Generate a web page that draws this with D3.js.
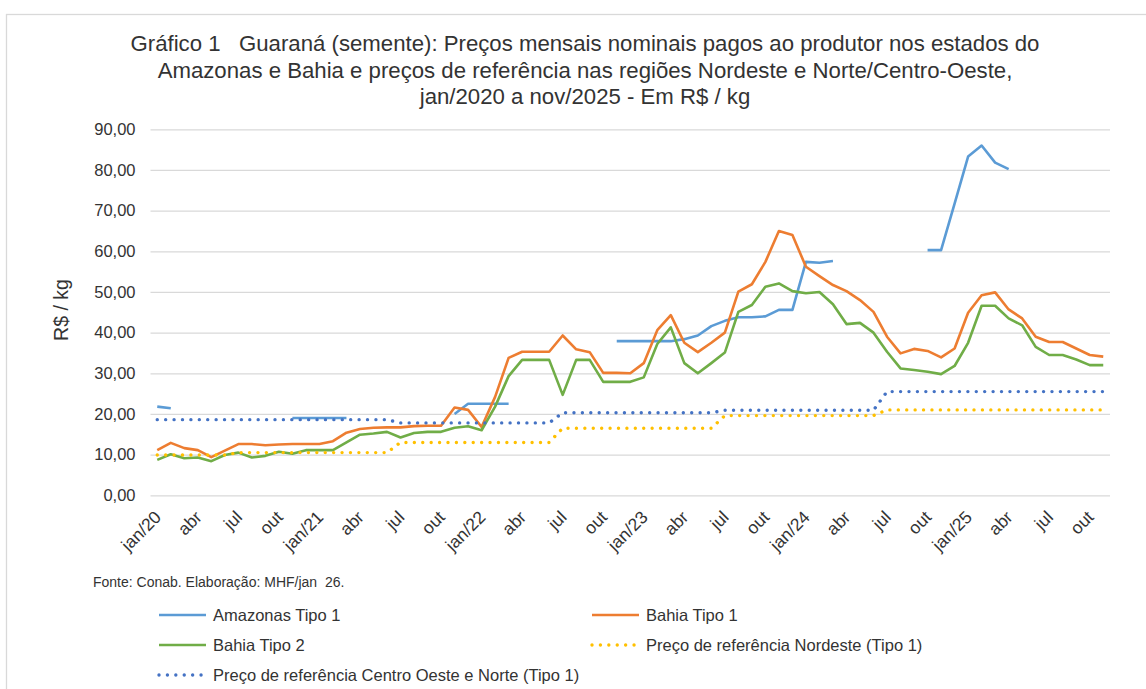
<!DOCTYPE html>
<html>
<head>
<meta charset="utf-8">
<script src="https://cdn.jsdelivr.net/npm/d3@7"></script>
<style>
  body { margin: 0; background: #fff; }
  svg text { font-family: "Liberation Sans", Arial, sans-serif; fill: #333; white-space: pre; }
</style>
</head>
<body>
<div id="chart"></div>
<script>
// month names and years -> 71 categories, jan/2020 .. nov/2025
var monthNames = ['jan', 'fev', 'mar', 'abr', 'mai', 'jun', 'jul', 'ago', 'set', 'out', 'nov', 'dez'];
var years = ['20', '21', '22', '23', '24', '25'];
var lastMonthCount = 11; // 2025 stops in nov

var categories = [];
years.forEach(function(yy, yi) {
    var n = yi === years.length - 1 ? lastMonthCount : 12;
    for (var m = 0; m < n; m++) categories.push(monthNames[m] + '/' + yy);
});

var yTicks = [0, 10, 20, 30, 40, 50, 60, 70, 80, 90];

// R$ / kg (null = no quote)
var amazonasTipo1 = [
    21.8, 21.4, null, null, null, null, null, null, null, null, 19.0, 19.0,
    19.0, 19.0, 19.0, null, null, null, null, null, null, null, 20.0, 22.5,
    22.5, 22.5, 22.5, null, null, null, null, null, null, null, 37.9, 37.9,
    37.9, 37.9, 37.9, 38.4, 39.3, 41.6, 42.9, 43.8, 43.8, 44.0, 45.6, 45.6,
    57.4, 57.2, 57.6, null, null, null, null, null, null, 60.3, 60.3, 71.7,
    83.3, 86.0, 81.8, 80.2, null, null, null, null, null, null, null
];
var bahiaTipo1 = [
    11.1, 12.9, 11.6, 11.1, 9.4, 11.0, 12.6, 12.6, 12.3, 12.5, 12.6, 12.6,
    12.6, 13.3, 15.4, 16.3, 16.6, 16.7, 16.7, 17.0, 17.1, 17.1, 21.6, 21.0,
    16.8, 24.2, 33.8, 35.3, 35.3, 35.3, 39.3, 35.9, 35.2, 30.1, 30.1, 30.0,
    32.5, 40.6, 44.3, 37.5, 35.2, 37.5, 40.0, 50.1, 51.9, 57.4, 65.0, 64.0,
    56.2, 53.9, 51.7, 50.2, 48.0, 45.1, 39.0, 34.9, 36.0, 35.5, 33.9, 36.1,
    44.9, 49.2, 49.9, 45.7, 43.5, 39.0, 37.7, 37.7, 36.1, 34.5, 34.1
];
var bahiaTipo2 = [
    8.7, 10.1, 9.1, 9.3, 8.4, 9.9, 10.5, 9.3, 9.7, 10.7, 10.2, 11.1,
    11.1, 11.1, 13.0, 14.9, 15.2, 15.6, 14.2, 15.3, 15.6, 15.6, 16.6, 17.0,
    16.0, 21.8, 29.3, 33.3, 33.3, 33.3, 24.7, 33.3, 33.3, 27.9, 27.9, 27.9,
    29.0, 37.2, 41.3, 32.5, 30.0, 32.5, 35.1, 45.1, 46.8, 51.3, 52.1, 50.2,
    49.7, 50.0, 47.0, 42.1, 42.4, 40.0, 35.3, 31.2, 30.8, 30.4, 29.8, 31.8,
    37.5, 46.6, 46.6, 43.5, 41.8, 36.5, 34.5, 34.5, 33.4, 32.0, 32.0
];
var refNordeste = [
    9.9, 9.9, 9.9, 9.9, 9.9, 9.9, 10.5, 10.5, 10.5, 10.5, 10.5, 10.5,
    10.5, 10.5, 10.5, 10.5, 10.5, 10.5, 13.0, 13.0, 13.0, 13.0, 13.0, 13.0,
    13.0, 13.0, 13.0, 13.0, 13.0, 13.0, 16.5, 16.5, 16.5, 16.5, 16.5, 16.5,
    16.5, 16.5, 16.5, 16.5, 16.5, 16.5, 19.6, 19.6, 19.6, 19.6, 19.6, 19.6,
    19.6, 19.6, 19.6, 19.6, 19.6, 19.6, 21.0, 21.0, 21.0, 21.0, 21.0, 21.0,
    21.0, 21.0, 21.0, 21.0, 21.0, 21.0, 21.0, 21.0, 21.0, 21.0, 21.0
];
var refCentroOesteNorte = [
    18.6, 18.6, 18.6, 18.6, 18.6, 18.6, 18.6, 18.6, 18.6, 18.6, 18.6, 18.6,
    18.6, 18.6, 18.6, 18.6, 18.6, 18.6, 17.8, 17.8, 17.8, 17.8, 17.8, 17.8,
    17.8, 17.8, 17.8, 17.8, 17.8, 17.8, 20.3, 20.3, 20.3, 20.3, 20.3, 20.3,
    20.3, 20.3, 20.3, 20.3, 20.3, 20.3, 20.9, 20.9, 20.9, 20.9, 20.9, 20.9,
    20.9, 20.9, 20.9, 20.9, 20.9, 20.9, 25.5, 25.5, 25.5, 25.5, 25.5, 25.5,
    25.5, 25.5, 25.5, 25.5, 25.5, 25.5, 25.5, 25.5, 25.5, 25.5, 25.5
];

var seriesNames = [
    'Amazonas Tipo 1',
    'Bahia Tipo 1',
    'Bahia Tipo 2',
    'Preço de referência Nordeste (Tipo 1)',
    'Preço de referência Centro Oeste e Norte (Tipo 1)'
];

var titleLines = [
    'Gráfico 1   Guaraná (semente): Preços mensais nominais pagos ao produtor nos estados do',
    'Amazonas e Bahia e preços de referência nas regiões Nordeste e Norte/Centro-Oeste,',
    'jan/2020 a nov/2025 - Em R$ / kg'
];

// styles per series (same order as seriesNames)
var series = [
    { name: seriesNames[0], values: amazonasTipo1,       color: '#5B9BD5', dotted: false },
    { name: seriesNames[1], values: bahiaTipo1,          color: '#ED7D31', dotted: false },
    { name: seriesNames[2], values: bahiaTipo2,          color: '#70AD47', dotted: false },
    { name: seriesNames[3], values: refNordeste,         color: '#FFC000', dotted: true },
    { name: seriesNames[4], values: refCentroOesteNorte, color: '#4472C4', dotted: true }
];

var width = 1146, height = 689;
var plot = { left: 150.5, right: 1110, top: 129.3, bottom: 495.3 };

var svg = d3.select('#chart').append('svg')
    .attr('width', width)
    .attr('height', height);

// outer frame of the chart
svg.append('rect')
    .attr('x', 6.5).attr('y', 14.5)
    .attr('width', 1200).attr('height', 700)
    .attr('fill', 'none')
    .attr('stroke', '#d9d9d9')
    .attr('stroke-width', 1.3);

// title
svg.append('g').selectAll('text')
    .data(titleLines)
    .enter().append('text')
    .attr('x', 585)
    .attr('y', function(d, i) { return 51 + i * 26.5; })
    .attr('text-anchor', 'middle')
    .attr('xml:space', 'preserve')
    .style('font-size', '22.2px')
    .text(function(d) { return d; });

var x = d3.scaleBand()
    .domain(categories)
    .range([plot.left, plot.right])
    .padding(0);

var y = d3.scaleLinear()
    .domain([0, 90])
    .range([plot.bottom, plot.top]);

function cx(i) { return x(categories[i]) + x.bandwidth() / 2; }

// y grid + labels
var yAxis = svg.append('g')
    .attr('transform', 'translate(' + plot.left + ',0)')
    .call(d3.axisLeft(y)
        .tickValues(yTicks)
        .tickSize(-(plot.right - plot.left))
        .tickPadding(15)
        .tickFormat(function(d) { return d.toFixed(2).replace('.', ','); }));
yAxis.select('.domain').remove();
yAxis.selectAll('line').attr('stroke', '#d9d9d9').attr('stroke-width', 1.3);
yAxis.selectAll('text')
    .style('font-size', '16.5px')
    .attr('fill', '#333');

// y axis title
svg.append('text')
    .attr('transform', 'translate(68,310) rotate(-90)')
    .attr('text-anchor', 'middle')
    .style('font-size', '19.5px')
    .text('R$ / kg');

// x axis labels, every 3 months
var xAxis = svg.append('g')
    .attr('transform', 'translate(0,' + plot.bottom + ')')
    .call(d3.axisBottom(x)
        .tickValues(categories.filter(function(d, i) { return i % 3 === 0; }))
        .tickSize(0)
        .tickFormat(function(d) { return d.indexOf('jan') === 0 ? d : d.split('/')[0]; }));
xAxis.select('.domain').remove();
xAxis.selectAll('text')
    .style('font-size', '17.5px')
    .attr('fill', '#333')
    .attr('text-anchor', 'end')
    .attr('y', 0)
    .attr('dy', 0)
    .attr('transform', 'translate(5,23) rotate(-45)');

// lines
var line = d3.line()
    .defined(function(d) { return d != null; })
    .x(function(d, i) { return cx(i); })
    .y(function(d) { return y(d); });

svg.append('g').selectAll('path')
    .data(series)
    .enter().append('path')
    .attr('fill', 'none')
    .attr('stroke', function(d) { return d.color; })
    .attr('stroke-width', function(d) { return d.dotted ? 3.4 : 2.6; })
    .attr('stroke-linecap', function(d) { return d.dotted ? 'round' : 'butt'; })
    .attr('stroke-linejoin', 'round')
    .attr('stroke-dasharray', function(d) { return d.dotted ? '0.01 8.4' : null; })
    .attr('d', function(d) { return line(d.values); });

// source note
svg.append('text')
    .attr('x', 93)
    .attr('y', 587)
    .attr('xml:space', 'preserve')
    .style('font-size', '14px')
    .text('Fonte: Conab. Elaboração: MHF/jan  26.');

// legend
var legendPos = [
    { x: 159, y: 615 },
    { x: 592, y: 615 },
    { x: 159, y: 645 },
    { x: 592, y: 645 },
    { x: 159, y: 675 }
];
var legend = svg.append('g').selectAll('g')
    .data(series)
    .enter().append('g')
    .attr('transform', function(d, i) { return 'translate(' + legendPos[i].x + ',' + legendPos[i].y + ')'; });
legend.append('line')
    .attr('x1', 0).attr('x2', 47)
    .attr('stroke', function(d) { return d.color; })
    .attr('stroke-width', function(d) { return d.dotted ? 3.4 : 2.6; })
    .attr('stroke-linecap', function(d) { return d.dotted ? 'round' : 'butt'; })
    .attr('stroke-dasharray', function(d) { return d.dotted ? '0.01 8.4' : null; });
legend.append('text')
    .attr('x', 54)
    .attr('dy', '0.35em')
    .style('font-size', '16.5px')
    .text(function(d) { return d.name; });
</script>
</body>
</html>
